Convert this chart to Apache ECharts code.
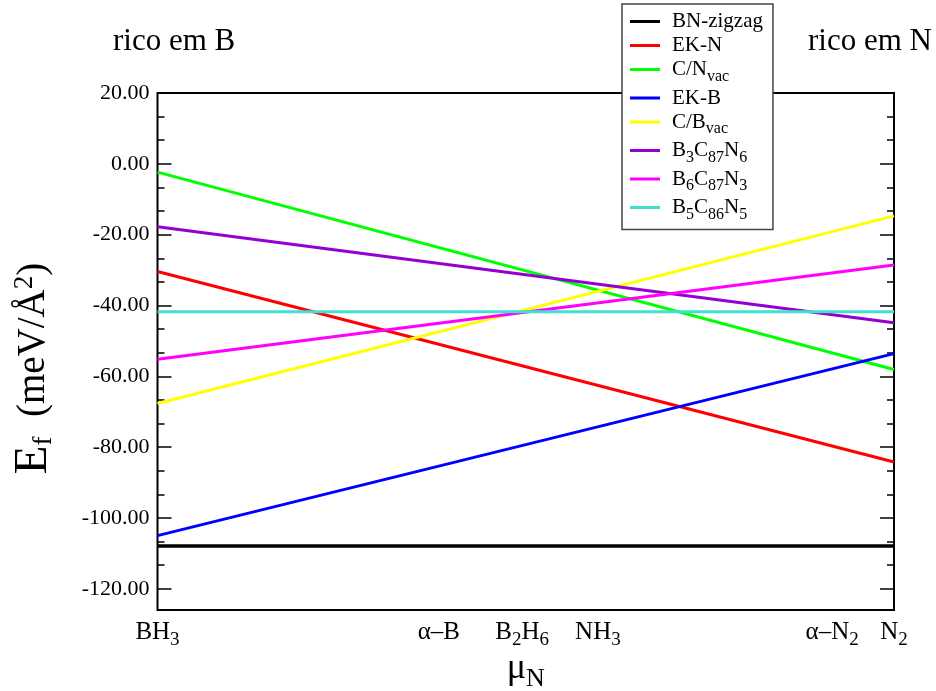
<!DOCTYPE html>
<html><head><meta charset="utf-8">
<script src="https://cdn.jsdelivr.net/npm/echarts@6/dist/echarts.min.js"></script>
<style>html,body{margin:0;padding:0;background:#fff}#c{width:936px;height:691px}</style>
</head><body><div id="c"></div>
<script>
// ---- data ----
const seriesNames = ['BN-zigzag', 'EK-N', 'C/Nvac', 'EK-B', 'C/Bvac', 'B3C87N6', 'B6C87N3', 'B5C86N5'];
const legendLabels = ['{m|BN-zigzag}', '{m|EK-N}', '{m|C/N}{s|vac}', '{m|EK-B}', '{m|C/B}{s|vac}',
  '{m|B}{s|3}{m|C}{s|87}{m|N}{s|6}', '{m|B}{s|6}{m|C}{s|87}{m|N}{s|3}', '{m|B}{s|5}{m|C}{s|86}{m|N}{s|5}'];
const xEnds = [0, 1];
const bnZigzag = [-107.9, -107.9];
const ekN = [-30.4, -84.2];
const cNvac = [-2.35, -58.1];
const ekB = [-105.0, -53.6];
const cBvac = [-67.7, -14.7];
const b3c87n6 = [-17.8, -44.9];
const b6c87n3 = [-55.2, -28.6];
const b5c86n5 = [-41.8, -41.8];
const xTickPos = [0, 0.382, 0.495, 0.598, 0.916, 1];
const xTickLabels = ['{m|BH}{s|3}', '{m|α–B}', '{m|B}{s|2}{m|H}{s|6}', '{m|NH}{s|3}', '{m|α–N}{s|2}', '{m|N}{s|2}'];
const yTickValues = [-120, -100, -80, -60, -40, -20, 0, 20];
const yMin = -126, yMax = 20;

const allValues = [bnZigzag, ekN, cNvac, ekB, cBvac, b3c87n6, b6c87n3, b5c86n5];
const colors = ['#000000', '#ff0000', '#00ff00', '#0000ff', '#ffff00', '#9400d3', '#ff00ff', '#40e0d0'];

const yMinor = [];
for (let j = 1; j <= 21; j++) {
  const v = -120 + j * 20 / 3;
  if (j % 3 !== 0 && v <= yMax) yMinor.push(v);
}

const FONT = 'Liberation Serif, Times New Roman, serif';

function yAxisBase(pos, values, len, labels) {
  return {
    type: 'value', min: yMin, max: yMax, position: pos,
    axisLine: { show: false },
    splitLine: { show: false },
    axisTick: { show: true, inside: true, length: len, customValues: values,
      lineStyle: { color: '#000', width: 1.5 } },
    axisLabel: labels ? {
      show: true, customValues: yTickValues, margin: 8,
      formatter: v => v.toFixed(2),
      fontFamily: FONT, fontSize: 22, color: '#000'
    } : { show: false }
  };
}

const chart = echarts.init(document.getElementById('c'));
chart.setOption({
  backgroundColor: '#fff',
  animation: false,
  grid: { left: 157.5, right: 42, top: 93, bottom: 81, show: true, containLabel: false,
    outerBoundsMode: 'none',
    borderColor: '#000', borderWidth: 2, backgroundColor: 'transparent' },
  xAxis: {
    type: 'value', min: 0, max: 1,
    axisLine: { show: false }, axisTick: { show: false }, splitLine: { show: false },
    axisLabel: {
      customValues: xTickPos, margin: 4,
      formatter: v => {
        let best = 0;
        xTickPos.forEach((p, i) => { if (Math.abs(p - v) < Math.abs(xTickPos[best] - v)) best = i; });
        return xTickLabels[best];
      },
      rich: {
        m: { fontFamily: FONT, fontSize: 25, color: '#000', lineHeight: 36 },
        s: { fontFamily: FONT, fontSize: 19, color: '#000', lineHeight: 20, padding: [16, 0, 0, 0] }
      }
    },
    name: '{m|μ}{s|N}', nameLocation: 'middle', nameGap: 36, nameMoveOverlap: false,
    nameTextStyle: { rich: {
      m: { fontFamily: FONT, fontSize: 36, color: '#000' },
      s: { fontFamily: FONT, fontSize: 26, color: '#000', padding: [20, 0, 0, 0] }
    } }
  },
  yAxis: [
    Object.assign(yAxisBase('left', yTickValues, 14, true), {
      name: '{e|E}{s|f}{m|  (meV/Å}{p|2}{m|)}', nameLocation: 'middle', nameRotate: 90, nameGap: 100,
      nameMoveOverlap: false,
      nameTextStyle: { padding: [0, 34, 0, 0], rich: {
        e: { fontFamily: FONT, fontSize: 47, color: '#000' },
        m: { fontFamily: FONT, fontSize: 39, color: '#000' },
        s: { fontFamily: FONT, fontSize: 27, color: '#000', padding: [20, 0, 0, 0] },
        p: { fontFamily: FONT, fontSize: 27, color: '#000', padding: [0, 0, 18, 0] }
      } }
    }),
    yAxisBase('left', yMinor, 7, false),
    yAxisBase('right', yTickValues, 14, false),
    yAxisBase('right', yMinor, 7, false)
  ],
  legend: {
    orient: 'vertical', left: 622, top: 4,
    data: seriesNames,
    icon: 'rect', itemWidth: 30, itemHeight: 3, itemGap: 3, itemTextGap: 17,
    padding: [7, 10, 7, 8],
    backgroundColor: '#fff', borderColor: '#444', borderWidth: 1.5,
    formatter: name => legendLabels[seriesNames.indexOf(name)],
    textStyle: { padding: [0, 0, 0, 7], rich: {
      m: { fontFamily: FONT, fontSize: 21, color: '#000' },
      s: { fontFamily: FONT, fontSize: 16, color: '#000', padding: [14, 0, 0, 0] }
    } }
  },
  graphic: [
    { type: 'text', left: 113, top: 26, style: { text: 'rico em B', font: '31px ' + FONT, fill: '#000' } },
    { type: 'text', left: 808, top: 26, style: { text: 'rico em N', font: '31px ' + FONT, fill: '#000' } }
  ],
  series: seriesNames.map((n, i) => ({
    name: n, type: 'line', symbol: 'none', color: colors[i],
    lineStyle: { width: i === 0 ? 3.5 : 3, color: colors[i] },
    data: xEnds.map((x, k) => [x, allValues[i][k]])
  }))
});
</script></body></html>
